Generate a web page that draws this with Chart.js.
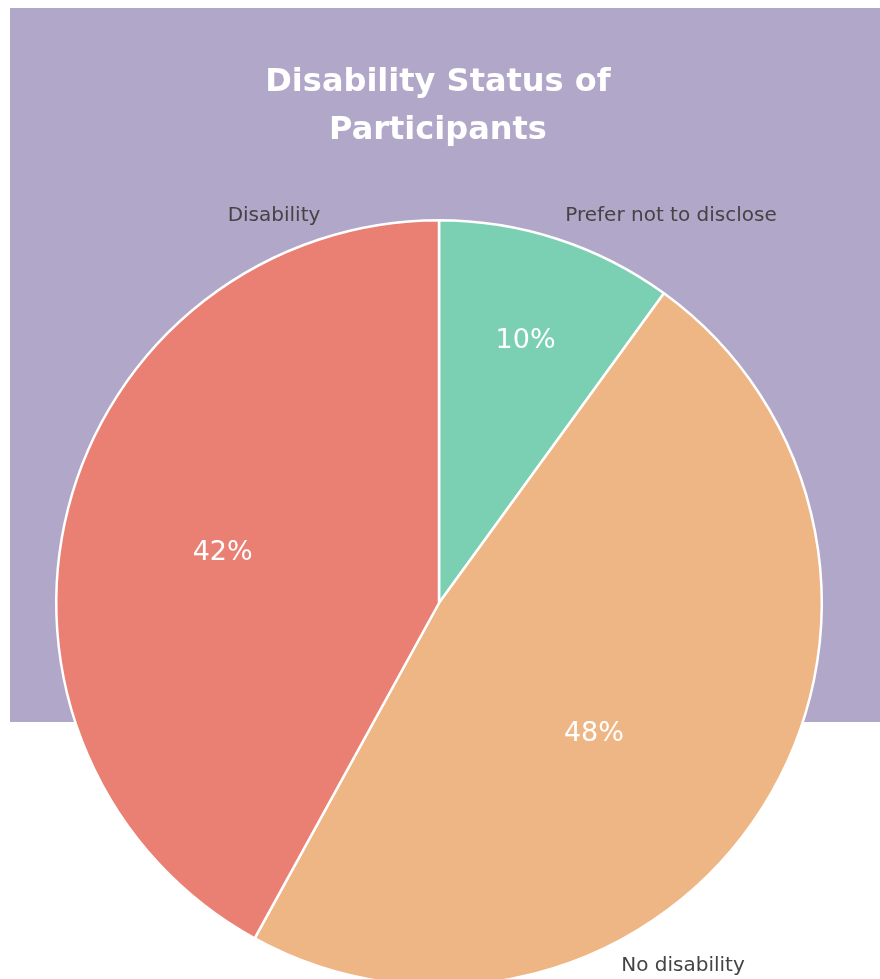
<!DOCTYPE html>
<html>
<head>
<meta charset="utf-8">
<script src="https://cdn.jsdelivr.net/npm/chart.js@4/dist/chart.umd.min.js"></script>
<style>
html,body{margin:0;padding:0;overflow:hidden;background:#fff;width:880px;height:979px;}
#wrap{position:relative;width:880px;height:1000px;}
</style>
</head>
<body>
<div id="wrap"><canvas id="c" width="880" height="1000"></canvas></div>
<script>
const titleLines = ["Disability Status of", "Participants"];
const categories = ["Prefer not to disclose", "No disability", "Disability"];
const values = [10, 48, 42];
const colors = ["#7bd0b3", "#efb685", "#e98073"];

const FONT = "'DejaVu Sans', 'Open Sans', sans-serif";

// per-slice label placement (angle offset in degrees, radius fraction)
const inLabelPos = [{da: 0.3, rf: 0.72}, {da: 7.8, rf: 0.53}, {da: -1.4, rf: 0.58}];
// outside label anchor positions
const outLabelPos = [
  {x: 671, y: 216},
  {x: 683, y: 966},
  {x: 274, y: 216}
];

const bgPlugin = {
  id: 'bg',
  beforeDraw(chart) {
    const ctx = chart.ctx;
    ctx.save();
    ctx.fillStyle = '#b1a7c8';
    ctx.fillRect(10, 8, 870, 714);
    ctx.restore();
  },
  afterDraw(chart) {
    const ctx = chart.ctx;
    ctx.save();
    ctx.fillStyle = '#ffffff';
    ctx.textAlign = 'center';
    ctx.textBaseline = 'middle';
    ctx.font = "bold 32px " + FONT;
    titleLines.forEach((t, i) => ctx.fillText(t, 438, 83 + i * 48));

    const meta = chart.getDatasetMeta(0);
    const total = values.reduce((a, b) => a + b, 0);
    meta.data.forEach((arc, i) => {
      const p = arc.getProps(['x', 'y', 'startAngle', 'endAngle', 'outerRadius'], true);
      const mid = (p.startAngle + p.endAngle) / 2 + inLabelPos[i].da * Math.PI / 180;
      const r = p.outerRadius * inLabelPos[i].rf;
      ctx.fillStyle = '#ffffff';
      ctx.font = "27px " + FONT;
      ctx.fillText(Math.round(values[i] / total * 100) + '%', p.x + Math.cos(mid) * r, p.y + Math.sin(mid) * r);
      ctx.fillStyle = '#444444';
      ctx.font = "20px " + FONT;
      ctx.fillText(categories[i], outLabelPos[i].x, outLabelPos[i].y);
    });
    ctx.restore();
  }
};

new Chart(document.getElementById('c'), {
  type: 'pie',
  data: {
    labels: categories,
    datasets: [{
      data: values,
      backgroundColor: colors,
      borderColor: '#ffffff',
      borderWidth: 2.5,
      hoverOffset: 0
    }]
  },
  options: {
    responsive: false,
    animation: false,
    layout: {padding: {left: 55, right: 57, top: 219, bottom: 13}},
    plugins: {
      legend: {display: false},
      title: {display: false},
      tooltip: {enabled: false}
    }
  },
  plugins: [bgPlugin]
});
</script>
</body>
</html>
